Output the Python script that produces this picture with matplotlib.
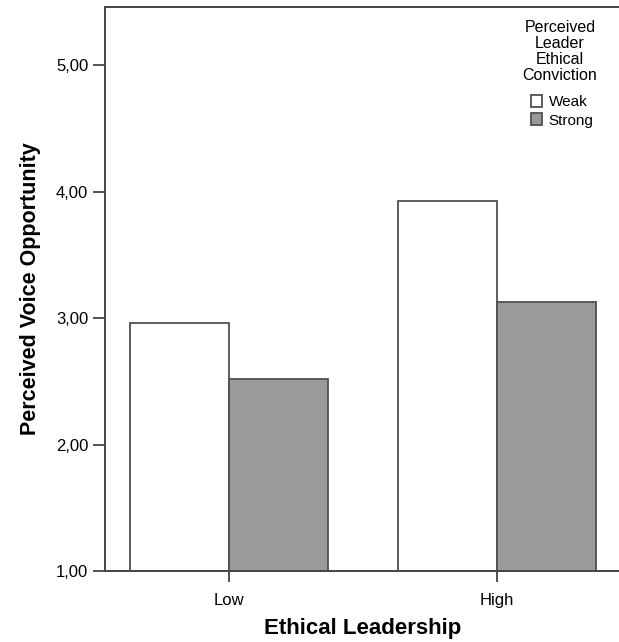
import numpy as np
import matplotlib
matplotlib.use("Agg")
import matplotlib.pyplot as plt

plt.rcParams['font.family'] = ['Liberation Sans', 'DejaVu Sans']

# data
categories = ["Low", "High"]
weak = [2.96, 3.925]
strong = [2.52, 3.13]
series_names = ["Weak", "Strong"]
y_ticks = [1, 2, 3, 4, 5]
y_ticklabels = ["1,00", "2,00", "3,00", "4,00", "5,00"]
legend_title = "Perceived\nLeader\nEthical\nConviction"

fig = plt.figure(figsize=(6.19, 6.42), dpi=100)
ax = fig.add_axes([105/619, 1 - 571/642, 1 - 105/619 + 0.002, (571 - 7)/642])

x = np.arange(len(categories))
w = 0.37
ec = "#505050"
ax.bar(x - w/2, np.array(weak) - 1, w, bottom=1, color="white", edgecolor=ec, linewidth=1.3, label=series_names[0])
ax.bar(x + w/2, np.array(strong) - 1, w, bottom=1, color="#9a9a9a", edgecolor=ec, linewidth=1.3, label=series_names[1])

ax.set_xlim(-0.463, 1.46)
ax.set_ylim(1, 5.46)
ax.set_xticks(x)
ax.set_xticklabels(categories, fontsize=12)
ax.set_yticks(y_ticks)
ax.set_yticklabels(y_ticklabels, fontsize=12)
ax.tick_params(axis='y', length=9, width=1.3, color="#444444", pad=3)
ax.tick_params(axis='x', length=8, width=1.3, color="#444444", pad=8)

for s in ["left", "bottom", "top"]:
    ax.spines[s].set_color("#444444")
    ax.spines[s].set_linewidth(1.4)
ax.spines["right"].set_visible(False)

ax.set_ylabel("Perceived Voice Opportunity", fontsize=15.5, fontweight="bold", labelpad=11)
ax.set_xlabel("Ethical Leadership", fontsize=16, fontweight="bold", labelpad=7)

# legend title as separate text, legend below it
fig.text(560/619, 1 - 20/642, legend_title, ha="center", va="top", fontsize=11.5,
         linespacing=1.08, multialignment="center")
ax.legend(loc="upper left", bbox_to_anchor=(531/619, 1 - 95/642), bbox_transform=fig.transFigure,
          frameon=False, fontsize=11,
          handlelength=0.7, handleheight=0.85, handletextpad=0.45, labelspacing=0.25,
          borderaxespad=0, borderpad=0)

fig.savefig("out.png", dpi=100)
